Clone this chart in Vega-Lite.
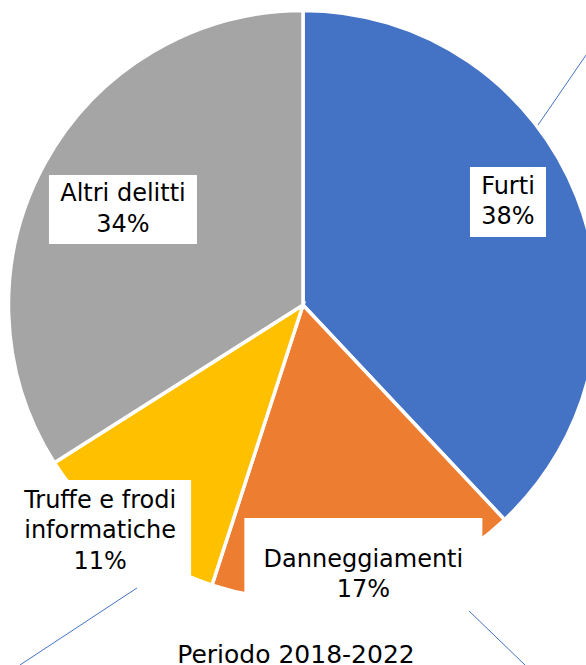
{
  "$schema": "https://vega.github.io/schema/vega-lite/v6.json",
  "width": 566,
  "height": 610,
  "autosize": {"type": "none"},
  "padding": {"left": 20, "top": 0, "right": 0, "bottom": 55},
  "background": "white",
  "config": {"view": {"stroke": null}},
  "title": {
    "text": "Periodo 2018-2022",
    "orient": "bottom",
    "anchor": "middle",
    "frame": "group",
    "font": "DejaVu Sans",
    "fontSize": 25,
    "fontWeight": "normal",
    "color": "#000000",
    "baseline": "alphabetic",
    "offset": -3,
    "dx": -7
  },
  "params": [
    {
      "name": "lbl",
      "value": {
        "Furti": {"r": 229.4, "o": -0.0885, "w": 38, "h": 35, "d": 0, "n": 2, "ro1": 296, "ao1": -0.2766, "ro2": 377.6, "ao2": -0.3464},
        "Danneggiamenti": {"r": 276.7, "o": 0, "w": 119, "h": 46, "d": -11, "n": 2, "ro1": 348.1, "ao1": -0.2772, "ro2": 423, "ao2": -0.3327},
        "Truffe e frodi informatiche": {"r": 303.8, "o": 0.0716, "w": 91, "h": 51, "d": 0, "n": 3, "ro1": 328.1, "ao1": -0.1292, "ro2": 457.9, "ao2": 0.0065},
        "Altri delitti": {"r": 203.8, "o": -0.0148, "w": 74, "h": 34.5, "d": 0, "n": 2, "ro1": 0, "ao1": 0, "ro2": 0, "ao2": 0}
      }
    }
  ],
  "data": {
    "values": [
      {"cat": "Furti", "value": 38},
      {"cat": "Danneggiamenti", "value": 17},
      {"cat": "Truffe e frodi informatiche", "value": 11},
      {"cat": "Altri delitti", "value": 34}
    ]
  },
  "transform": [
    {"stack": "value", "groupby": [], "as": ["v0", "v1"]}
  ],
  "layer": [
    {
      "mark": {"type": "arc", "outerRadius": 294.5, "stroke": "white", "strokeWidth": 3.5},
      "encoding": {
        "theta": {"field": "v0", "type": "quantitative", "scale": {"domain": [0, 100]}},
        "theta2": {"field": "v1"},
        "color": {
          "field": "cat",
          "type": "nominal",
          "scale": {
            "domain": ["Furti", "Danneggiamenti", "Truffe e frodi informatiche", "Altri delitti"],
            "range": ["#4472C4", "#ED7D31", "#FFC000", "#A5A5A5"]
          },
          "legend": null
        }
      }
    },
    {
      "transform": [{"filter": "datum.cat != 'Altri delitti'"}],
      "mark": {"type": "rule", "color": "#4472C4", "strokeWidth": 1},
      "encoding": {
        "x": {"value": {"expr": "width/2 + lbl[datum.cat].ro1*sin(PI*(datum.v0+datum.v1)/100 + lbl[datum.cat].ao1)"}},
        "y": {"value": {"expr": "height/2 - lbl[datum.cat].ro1*cos(PI*(datum.v0+datum.v1)/100 + lbl[datum.cat].ao1)"}},
        "x2": {"value": {"expr": "width/2 + lbl[datum.cat].ro2*sin(PI*(datum.v0+datum.v1)/100 + lbl[datum.cat].ao2)"}},
        "y2": {"value": {"expr": "height/2 - lbl[datum.cat].ro2*cos(PI*(datum.v0+datum.v1)/100 + lbl[datum.cat].ao2)"}}
      }
    },
    {
      "mark": {
        "type": "rect",
        "color": "white",
        "fill": "white",
        "x": {"expr": "width/2 + lbl[datum.cat].r*sin(PI*(datum.v0+datum.v1)/100 + lbl[datum.cat].o) - lbl[datum.cat].w"},
        "x2": {"expr": "width/2 + lbl[datum.cat].r*sin(PI*(datum.v0+datum.v1)/100 + lbl[datum.cat].o) + lbl[datum.cat].w"},
        "y": {"expr": "height/2 - lbl[datum.cat].r*cos(PI*(datum.v0+datum.v1)/100 + lbl[datum.cat].o) - lbl[datum.cat].h + lbl[datum.cat].d"},
        "y2": {"expr": "height/2 - lbl[datum.cat].r*cos(PI*(datum.v0+datum.v1)/100 + lbl[datum.cat].o) + lbl[datum.cat].h + lbl[datum.cat].d"}
      },
      "encoding": {}
    },
    {
      "mark": {
        "type": "text",
        "font": "DejaVu Sans",
        "fontSize": 24,
        "color": "#000000",
        "align": "center",
        "baseline": "middle",
        "lineHeight": 30.5,
        "x": {"expr": "width/2 + lbl[datum.cat].r*sin(PI*(datum.v0+datum.v1)/100 + lbl[datum.cat].o)"},
        "y": {"expr": "height/2 - lbl[datum.cat].r*cos(PI*(datum.v0+datum.v1)/100 + lbl[datum.cat].o)"},
        "dy": {"expr": "-(lbl[datum.cat].n - 1) * 15.25"},
        "text": {"expr": "datum.cat == 'Truffe e frodi informatiche' ? ['Truffe e frodi', 'informatiche', datum.value + '%'] : [datum.cat, datum.value + '%']"}
      },
      "encoding": {}
    }
  ]
}
